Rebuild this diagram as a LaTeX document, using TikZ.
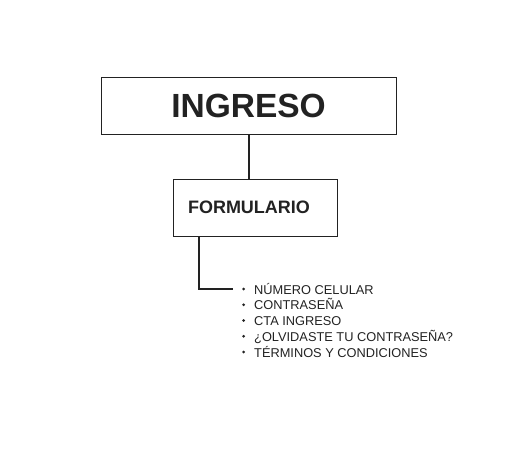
\documentclass[tikz,border=0pt]{standalone}
\usepackage{fontspec}
\setmainfont{Liberation Sans}
\usetikzlibrary{calc}
\definecolor{tinta}{HTML}{222222}
\begin{document}
\begin{tikzpicture}[x=1pt,y=-1pt]
              \useasboundingbox (0,0) rectangle (530,473);
              \begin{scope}[every node/.style={draw=tinta, line width=0.8pt, text=tinta, font=\bfseries}]
                \node[minimum width=295pt, minimum height=57pt, font=\fontsize{33.5}{36}\selectfont\bfseries] (ingreso) at (248.5,105.5) {INGRESO};
                \node[minimum height=57pt, text width=134pt, inner xsep=15pt, align=left, font=\fontsize{18}{20}\selectfont\bfseries] (formulario) at (255,207.5) {FORMULARIO};
              \end{scope}
              \begin{scope}[every node/.style={anchor=base west, inner sep=0pt, text=tinta, font=\fontsize{12.8}{15}\selectfont}]
                \foreach \campo [count=\i] in {NÚMERO CELULAR, CONTRASEÑA, CTA INGRESO, ¿OLVIDASTE TU CONTRASEÑA?, TÉRMINOS Y CONDICIONES} {
                  \node (campo\i) at (254,{294+15.75*(\i-1)}) {\campo};
                  \fill[tinta] ($(campo\i.base west)+(-10.5,-5)$) circle (1.5pt);
                }
              \end{scope}
              \coordinate (rama) at (199,236);
              \coordinate (fin) at (233,288.5);
              \begin{scope}[every edge/.style={draw=tinta, line width=2pt}]
                \path (ingreso.south) edge (ingreso.south |- formulario.north);
                \path (rama) edge[to path={|- (\tikztotarget)}] (fin);
              \end{scope}
            \end{tikzpicture}
\end{document}
